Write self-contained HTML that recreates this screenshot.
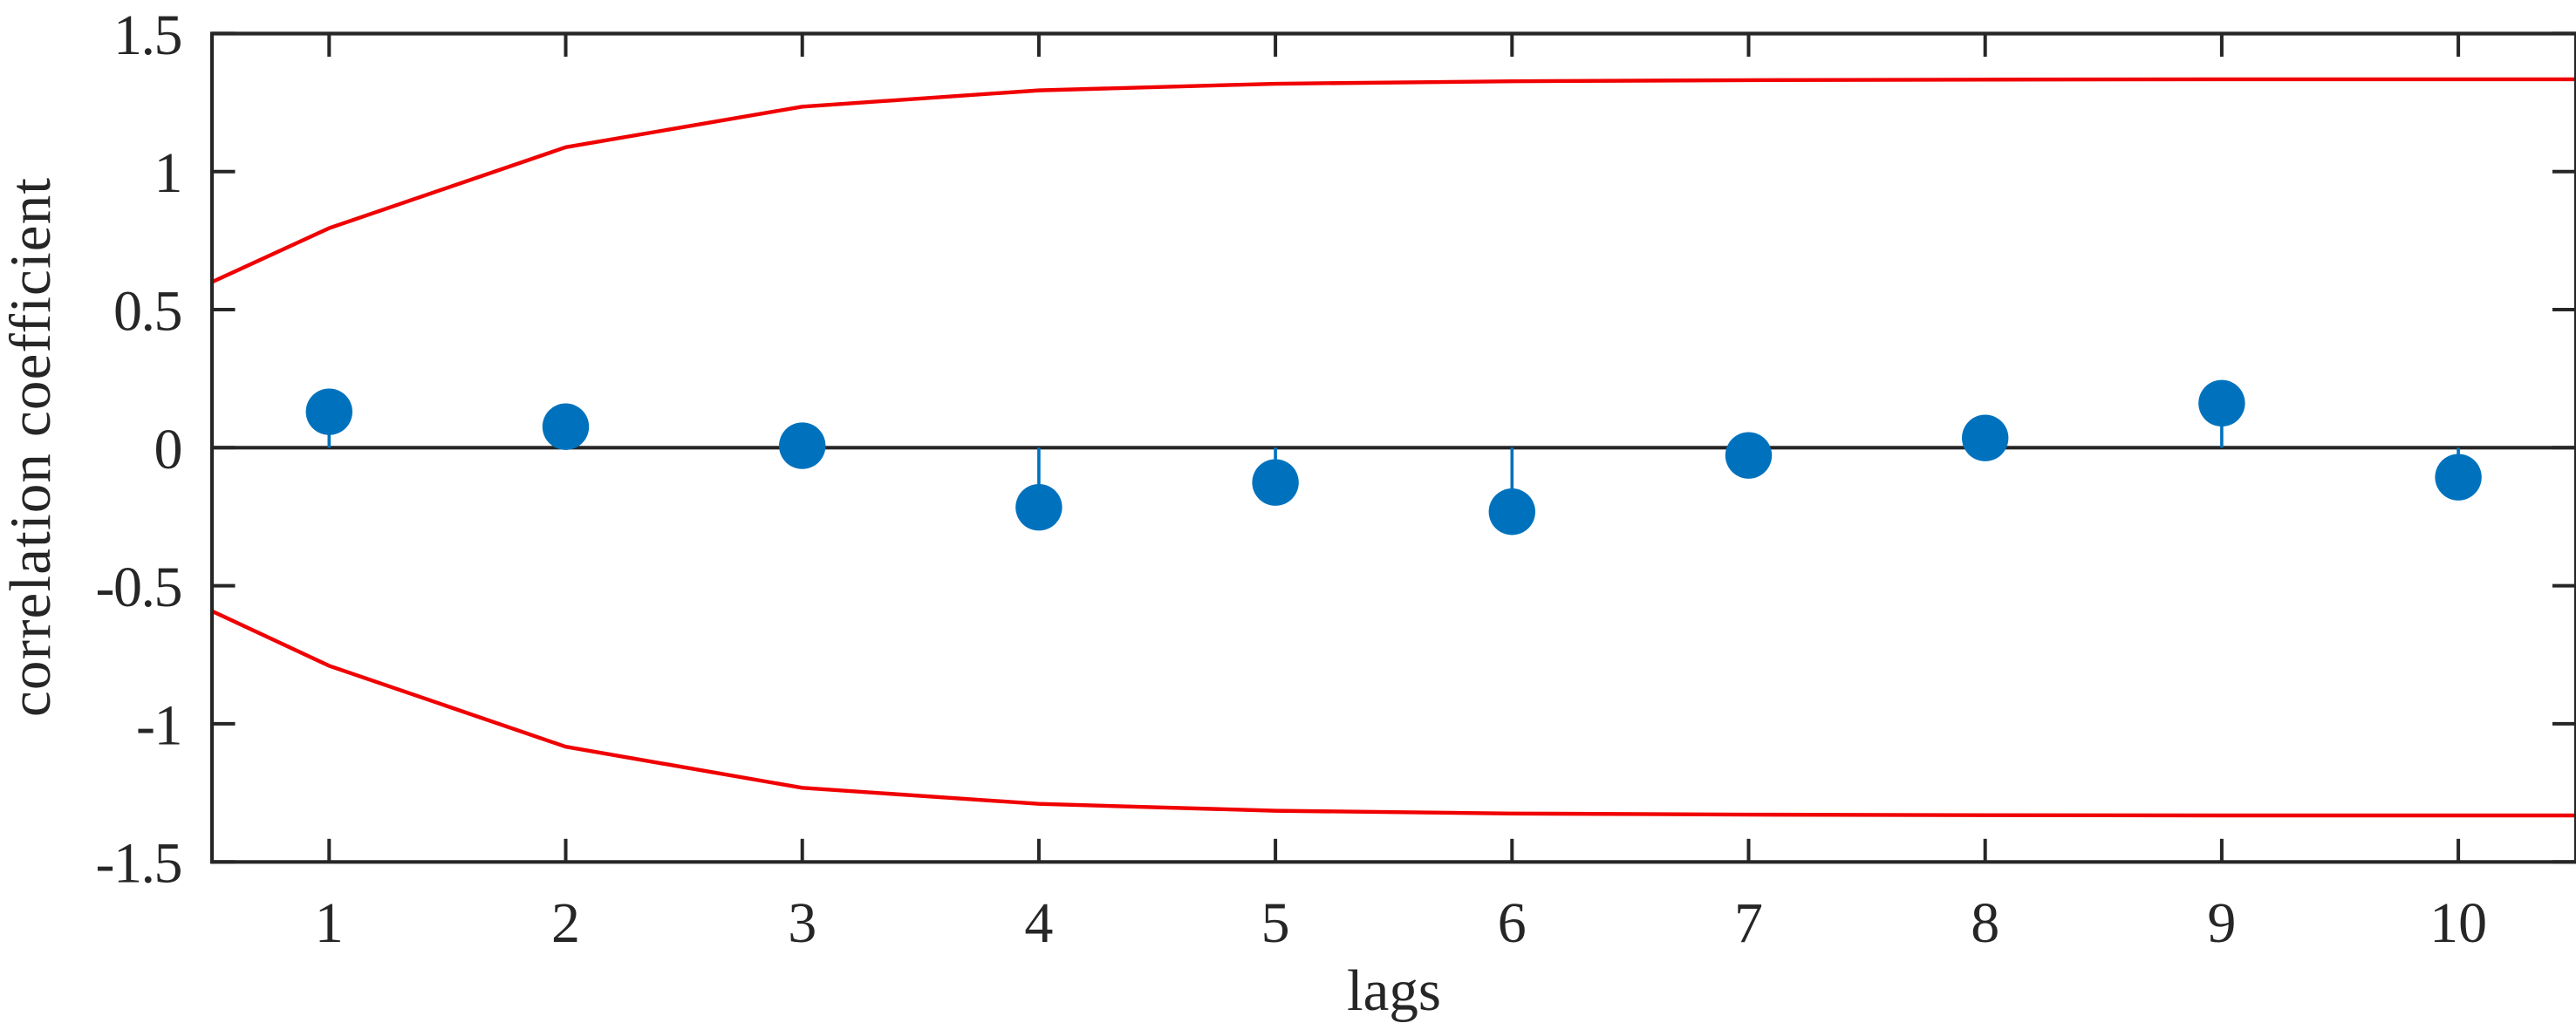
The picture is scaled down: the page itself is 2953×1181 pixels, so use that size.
<!DOCTYPE html>
<html lang="en">
<head>
<meta charset="utf-8">
<title>Correlation coefficient by lag</title>
<style>
html,body{margin:0;padding:0;background:#fff;width:2953px;height:1181px;overflow:hidden}
svg{display:block}
text{font-family:"Liberation Serif",serif;fill:#262626}
</style>
</head>
<body>
<svg id="chart" xmlns="http://www.w3.org/2000/svg" width="2953" height="1181" viewBox="0 0 2953 1181">
<defs><clipPath id="plot-clip"><rect x="243" y="38" width="2710" height="951"/></clipPath></defs>
<rect x="0" y="0" width="2953" height="1181" fill="#fff"/>
<text transform="translate(57,513) rotate(-90)" text-anchor="middle" font-size="67" textLength="618" lengthAdjust="spacing">correlation coefficient</text>
<text x="1598" y="1158" text-anchor="middle" font-size="67">lags</text>
</svg>
<script>
const lags = [1, 2, 3, 4, 5, 6, 7, 8, 9, 10];
const correlation = [0.130, 0.076, 0.007, -0.216, -0.126, -0.232, -0.028, 0.035, 0.161, -0.107];
const boundLags = [0.5, 1, 2, 3, 4, 5, 6, 7, 8, 9, 10, 10.5];
const upperBound = [0.598, 0.795, 1.088, 1.235, 1.294, 1.318, 1.327, 1.331, 1.333, 1.334, 1.334, 1.334];
const lowerBound = [-0.590, -0.790, -1.083, -1.232, -1.290, -1.315, -1.325, -1.329, -1.331, -1.332, -1.332, -1.332];
const xTickValues = [1, 2, 3, 4, 5, 6, 7, 8, 9, 10];
const yTickValues = [-1.5, -1, -0.5, 0, 0.5, 1, 1.5];
const yTickLabels = ['-1.5', '-1', '-0.5', '0', '0.5', '1', '1.5'];

const NS = 'http://www.w3.org/2000/svg';
const svg = document.getElementById('chart');
const xScale = v => 377.3 + (v - 1) * 271.2;
const yScale = v => 513.3 - v * 316.6;
const INK = '#262626', BLUE = '#0072BD', RED = '#F00000';

function makeLine(x1, y1, x2, y2, color, width) {
  const l = document.createElementNS(NS, 'line');
  l.setAttribute('x1', x1);
  l.setAttribute('y1', y1);
  l.setAttribute('x2', x2);
  l.setAttribute('y2', y2);
  l.setAttribute('stroke', color);
  l.setAttribute('stroke-width', width);
  svg.appendChild(l);
  return l;
}
function makeLabel(x, y, anchor, str) {
  const t = document.createElementNS(NS, 'text');
  t.setAttribute('x', x);
  t.setAttribute('y', y);
  t.setAttribute('text-anchor', anchor);
  t.setAttribute('font-size', '66');
  t.textContent = str;
  svg.appendChild(t);
  return t;
}
function makeBound(values) {
  const p = document.createElementNS(NS, 'polyline');
  p.setAttribute('points', boundLags.map((v, i) => xScale(v) + ',' + yScale(values[i])).join(' '));
  p.setAttribute('fill', 'none');
  p.setAttribute('stroke', RED);
  p.setAttribute('stroke-width', '4.4');
  p.setAttribute('stroke-linejoin', 'round');
  p.setAttribute('clip-path', 'url(#plot-clip)');
  svg.appendChild(p);
  return p;
}

const upperLine = makeBound(upperBound);


const lowerLine = makeBound(lowerBound);



const zeroLine = makeLine(243, yScale(0), 2953, yScale(0), INK, 4.2);



lags.forEach((lag, i) => {
  const stem = makeLine(xScale(lag), yScale(0), xScale(lag), yScale(correlation[i]), BLUE, 3.6);
  
  
  const dot = document.createElementNS(NS, 'circle');
  dot.setAttribute('cx', xScale(lag));
  dot.setAttribute('cy', yScale(correlation[i]));
  dot.setAttribute('r', '26.7');
  dot.setAttribute('fill', BLUE);
  
  
  svg.appendChild(dot);
});

const TOP = 38.5, BOTTOM = 988.3, LEFT = 243, RIGHT = 2952.5, TICK = 26.5;

const frameTop = makeLine(LEFT - 2, TOP, RIGHT + 1, TOP, INK, 4.2);


const frameBottom = makeLine(LEFT - 2, BOTTOM, RIGHT + 1, BOTTOM, INK, 4.2);


const frameLeft = makeLine(LEFT, TOP - 2, LEFT, BOTTOM + 2, INK, 4.2);


const frameRight = makeLine(RIGHT + 0.5, TOP - 2, RIGHT + 0.5, BOTTOM + 2, INK, 4.2);



xTickValues.forEach(v => {
  const bottomTick = makeLine(xScale(v), BOTTOM, xScale(v), BOTTOM - TICK, INK, 4);
  
  
  const topTick = makeLine(xScale(v), TOP, xScale(v), TOP + TICK, INK, 4);
  
  
  const label = makeLabel(xScale(v), 1080, 'middle', String(v));
  
  
});

yTickValues.forEach((v, i) => {
  const leftTick = makeLine(LEFT, yScale(v), LEFT + TICK, yScale(v), INK, 4);
  
  
  const rightTick = makeLine(RIGHT, yScale(v), RIGHT - TICK, yScale(v), INK, 4);
  
  
  const label = makeLabel(208, yScale(v) + 23.5, 'end', yTickLabels[i]);
  label.setAttribute('letter-spacing', '-1.5');
  
  
});
</script>
</body>
</html>
